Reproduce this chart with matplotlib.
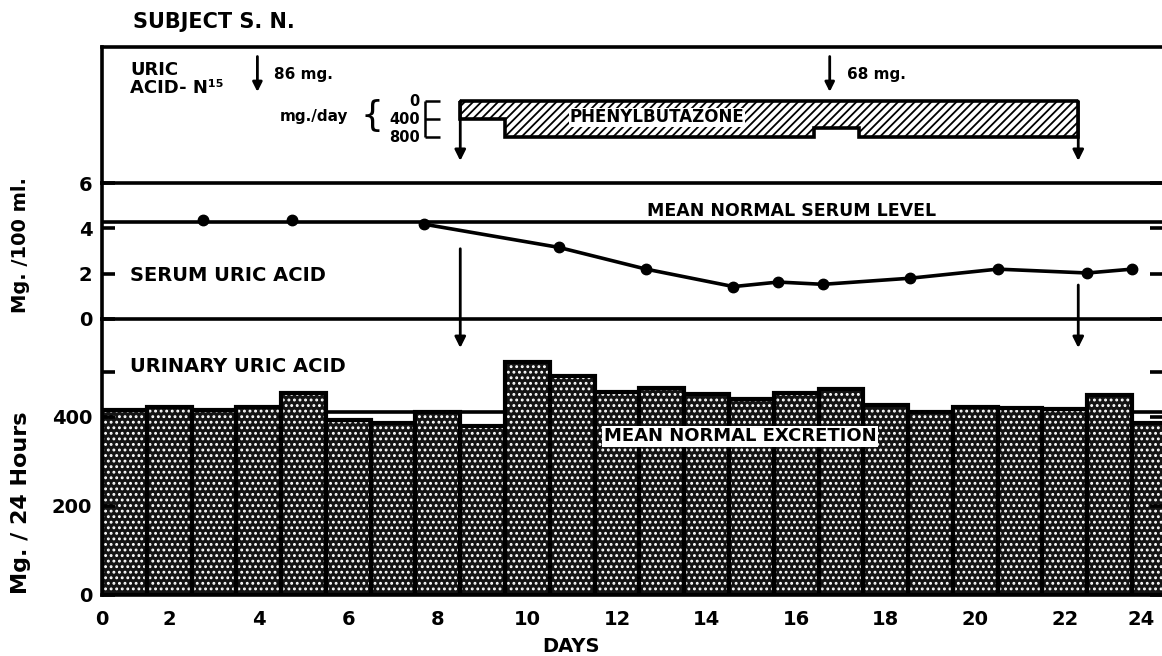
import matplotlib
matplotlib.use("Agg")
import matplotlib.pyplot as plt

plt.rcParams['font.family'] = ['DejaVu Sans']
plt.rcParams['font.weight'] = 'bold'
plt.rcParams['hatch.linewidth'] = 1.3

W, H = 1162, 656

# urinary uric acid, mg / 24 h, one bar per day
days = list(range(1, 25))
urine = [416, 422, 416, 422, 453, 393, 386, 412, 380, 524, 492, 455,
         465, 452, 441, 453, 462, 427, 412, 423, 420, 418, 449, 386]
mean_excretion = 410

# serum uric acid, mg / 100 ml
serum_days = [2.75, 4.75, 7.7, 10.7, 12.65, 14.6, 15.6, 16.6, 18.55, 20.5, 22.5, 23.5]
serum = [4.35, 4.38, 4.18, 3.16, 2.2, 1.43, 1.63, 1.53, 1.8, 2.2, 2.03, 2.2]
mean_serum = 4.3

# phenylbutazone dose, mg / day
dose_edges = [8.5, 9.5, 16.4, 17.4, 22.3]
dose = [400, 800, 600, 800]
dose_scale = [0, 400, 800]

# uric acid-N15 injections
tracer_days = [3.97, 16.75]
tracer_labels = ['86 mg.', '68 mg.']

xtick_pos = [0.5, 2, 4, 6, 8, 10, 12, 14, 16, 18, 20, 22, 24]
xtick_labels = ['0', '2', '4', '6', '8', '10', '12', '14', '16', '18', '20', '22', '24']


def rect(x0, y0, x1, y1):
    return [x0 / W, 1 - y1 / H, (x1 - x0) / W, (y1 - y0) / H]


def fpos(x, y):
    return x / W, 1 - y / H


fig = plt.figure(figsize=(W / 100, H / 100), dpi=100)
ax_top = fig.add_axes(rect(102, 47, 1162, 183))
ax_ser = fig.add_axes(rect(102, 183, 1162, 319), sharex=ax_top)
ax_uri = fig.add_axes(rect(102, 319, 1162, 595), sharex=ax_top)

LW = 2.6
for ax in (ax_top, ax_ser, ax_uri):
    ax.set_facecolor('none')
    ax.spines['right'].set_visible(False)
    for s in ax.spines.values():
        s.set_linewidth(LW)
ax_top.spines['bottom'].set_visible(False)
ax_uri.spines['top'].set_visible(False)

ax_top.set_xlim(0.5, 24.17)

# ---- top panel: doses
ax_top.set_ylim(1822, -1200)
ax_top.set_yticks([])
ax_top.tick_params(axis='x', bottom=False, labelbottom=False)

ax_top.stairs(dose, dose_edges, baseline=0, fill=True, facecolor='white',
              edgecolor='black', lw=0, hatch='////')
ax_top.stairs(dose, dose_edges, baseline=0, fill=False, color='black', lw=LW)
ax_top.hlines(0, dose_edges[0], dose_edges[-1], color='black', lw=LW)
ax_top.text((dose_edges[0] + dose_edges[-1]) / 2 - 2.5, 360, 'PHENYLBUTAZONE',
            ha='center', va='center', fontsize=12,
            bbox=dict(facecolor='white', edgecolor='none', pad=0.5))

for d in (dose_edges[0], dose_edges[-1]):
    ax_top.annotate('', xy=(d, 1330), xytext=(d, 0),
                    arrowprops=dict(arrowstyle='-|>', color='black', lw=2,
                                    mutation_scale=16, shrinkA=0, shrinkB=0))

# dose scale bracket
ax_top.vlines(7.72, dose_scale[0], dose_scale[-1], color='black', lw=1.8)
ax_top.hlines(dose_scale, 7.72, 8.05, color='black', lw=1.8)
for v in dose_scale:
    ax_top.text(7.6, v, str(v), ha='right', va='center', fontsize=10.5)

tr = ax_top.get_xaxis_transform()
for d, lab in zip(tracer_days, tracer_labels):
    ax_top.annotate('', xy=(d, 0.67), xytext=(d, 0.93), xycoords=tr, textcoords=tr,
                    arrowprops=dict(arrowstyle='-|>', color='black', lw=2,
                                    mutation_scale=14, shrinkA=0, shrinkB=0))
    ax_top.text(d + 0.38, 0.80, lab, transform=tr, ha='left', va='center', fontsize=11)

# ---- serum panel
ax_ser.set_ylim(0, 6)
ax_ser.set_yticks([0, 2, 4, 6])
ax_ser.tick_params(axis='y', direction='in', length=9, width=LW, right=True,
                   labelsize=14, pad=7)
ax_ser.tick_params(axis='x', bottom=False, labelbottom=False)
ax_ser.axhline(mean_serum, color='black', lw=LW)
ax_ser.plot(serum_days[2:], serum[2:], color='black', lw=2.6)
ax_ser.plot(serum_days, serum, 'o', color='black', ms=7.5)
ax_ser.text(15.9, 4.75, 'MEAN NORMAL SERUM LEVEL', ha='center', va='center', fontsize=12.5)

# ---- urine panel
ax_uri.set_ylim(0, 620)
ax_uri.set_yticks([0, 200, 400, 500])
ax_uri.set_yticklabels(['0', '200', '400', ''])
ax_uri.tick_params(axis='y', direction='in', length=9, width=LW, right=True,
                   labelsize=14, pad=7)
ax_uri.set_xticks(xtick_pos)
ax_uri.set_xticklabels(xtick_labels)
ax_uri.tick_params(axis='x', length=0, labelsize=14, pad=11)
ax_uri.get_xticklabels()[-1].set_horizontalalignment('right')

ax_uri.axhline(mean_excretion, color='black', lw=LW, zorder=0.5)
ax_uri.bar(days, urine, width=1, color='#141414', edgecolor='white', lw=0,
           hatch='...', zorder=1)
ax_uri.bar(days, urine, width=1, fill=False, edgecolor='black', lw=3, zorder=1.2)
ax_uri.text(14.75, 357, 'MEAN NORMAL EXCRETION', ha='center', va='center', fontsize=13,
            bbox=dict(facecolor='white', edgecolor='none', pad=1.0), zorder=3)

# arrows crossing the serum panel into the urine panel
for d, y0 in ((dose_edges[0], 3.1), (dose_edges[-1], 1.5)):
    ax_uri.annotate('', xy=(d, 555), xytext=(d, y0), textcoords=ax_ser.transData,
                    annotation_clip=False,
                    arrowprops=dict(arrowstyle='-|>', color='black', lw=2,
                                    mutation_scale=16, shrinkA=0, shrinkB=0))

# ---- free text
fig.text(*fpos(133, 22), 'SUBJECT S. N.', ha='left', va='center', fontsize=15)
fig.text(*fpos(130, 70), 'URIC', ha='left', va='center', fontsize=13)
fig.text(*fpos(130, 88), 'ACID- N¹⁵', ha='left', va='center', fontsize=13)
fig.text(*fpos(348, 117), 'mg./day', ha='right', va='center', fontsize=11)
fig.text(*fpos(372, 116), '{', ha='center', va='center', fontsize=26, fontweight='normal')
fig.text(*fpos(130, 276), 'SERUM URIC ACID', ha='left', va='center', fontsize=14)
fig.text(*fpos(130, 367), 'URINARY URIC ACID', ha='left', va='center', fontsize=14)
fig.text(*fpos(21, 245), 'Mg. /100 ml.', rotation=90, ha='center', va='center', fontsize=14)
fig.text(*fpos(21, 503), 'Mg. / 24 Hours', rotation=90, ha='center', va='center', fontsize=16)
fig.text(*fpos(571, 647), 'DAYS', ha='center', va='center', fontsize=14)

fig.savefig('out.png', dpi=100)
